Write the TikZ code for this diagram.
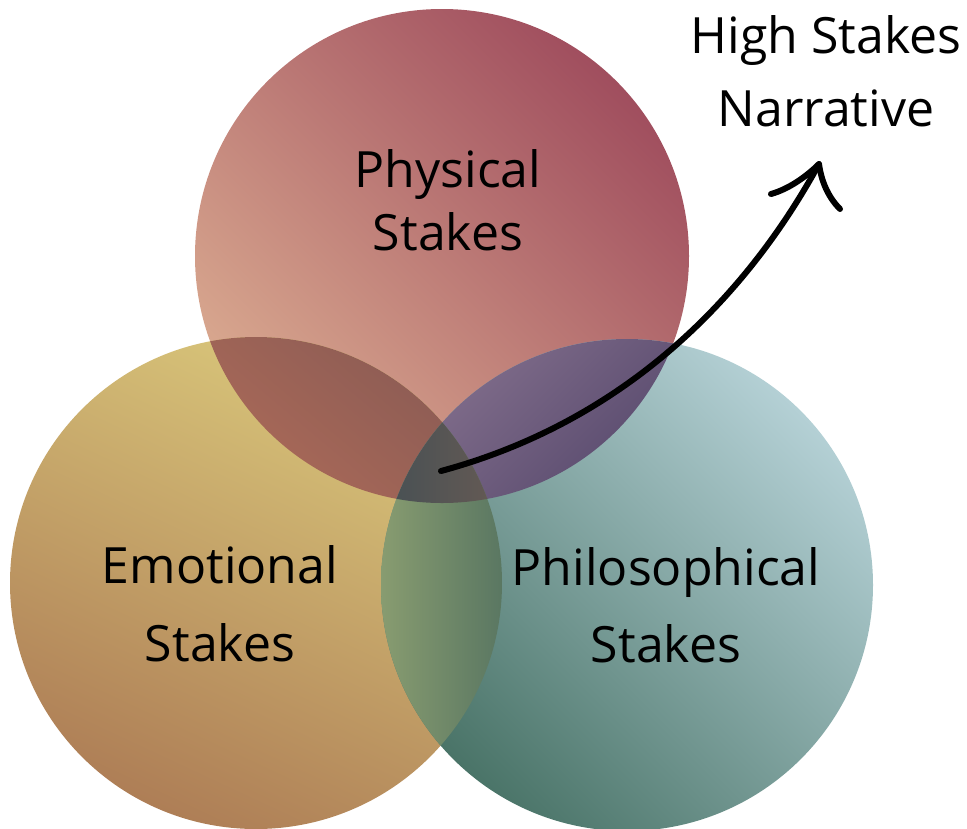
\documentclass[tikz,border=0pt]{standalone}
\usepackage{fontspec}
\setmainfont{Open Sans}
\usetikzlibrary{calc}
\definecolor{physlight}{HTML}{DAAA90}
\definecolor{physdark}{HTML}{A04E5E}
\definecolor{emolight}{HTML}{DAC87B}
\definecolor{emodark}{HTML}{AE7E56}
\definecolor{philight}{HTML}{B4D0D5}
\definecolor{phidark}{HTML}{4A7468}
\definecolor{tlight}{HTML}{AC6A58}
\definecolor{tdark}{HTML}{885A54}
\definecolor{plight}{HTML}{86728F}
\definecolor{pdark}{HTML}{56486C}
\definecolor{glight}{HTML}{889C70}
\definecolor{gdark}{HTML}{5A7762}
\definecolor{clight}{HTML}{465054}
\definecolor{cdark}{HTML}{665A54}
\begin{document}
\begin{tikzpicture}[x=1pt,y=-1pt,
  stakes/.style={font=\fontsize{50}{63}\selectfont, align=center, inner sep=0pt}]
\useasboundingbox (0,0) rectangle (967,828);
\def\physical{(442,256) circle (247pt)}
\def\emotional{(256,583) circle (246pt)}
\def\philosophical{(627,585) circle (246pt)}
% the three circles
\shade[top color=physdark, bottom color=physlight, shading angle=-45] \physical;
\shade[top color=emolight, bottom color=emodark, shading angle=-25] \emotional;
\shade[top color=philight, bottom color=phidark, shading angle=-45] \philosophical;
% overlaps
\begin{scope}
  \clip \physical;
  \clip \emotional;
  \shade[top color=tdark, bottom color=tlight, shading angle=-40] (200,337) rectangle (502,503);
\end{scope}
\begin{scope}
  \clip \physical;
  \clip \philosophical;
  \shade[top color=plight, bottom color=pdark, shading angle=45] (380,339) rectangle (690,503);
\end{scope}
\begin{scope}
  \clip \emotional;
  \clip \philosophical;
  \shade[left color=glight, right color=gdark] (381,420) rectangle (502,760);
\end{scope}
\begin{scope}
  \clip \physical;
  \clip \emotional;
  \clip \philosophical;
  \shade[left color=clight, right color=cdark] (381,420) rectangle (502,503);
\end{scope}
% labels
\node[stakes] (phys) at (448,200) {Physical\\Stakes};
\node[stakes, font=\fontsize{50}{78}\selectfont] (emo) at (220,604) {Emotional\\Stakes};
\node[stakes, font=\fontsize{50}{77}\selectfont] (phil) at (666,605) {Philosophical\\Stakes};
\node[stakes, font=\fontsize{50}{73}\selectfont] (high) at (826,71) {High Stakes\\Narrative};
% arrow
\coordinate (core) at (441,471);
\coordinate (tip) at (819,164);
\draw[line width=6pt, line cap=round] (core) .. controls (630,420) and (749,292) .. (tip);
\draw[line width=6pt, line cap=round, line join=round]
  ($(tip)+(-48,30)$) .. controls ($(tip)+(-30,25)$) and ($(tip)+(-12,12)$) .. (tip)
  .. controls ($(tip)+(2,15)$) and ($(tip)+(8,32)$) .. ($(tip)+(21,45)$);
\end{tikzpicture}
\end{document}
